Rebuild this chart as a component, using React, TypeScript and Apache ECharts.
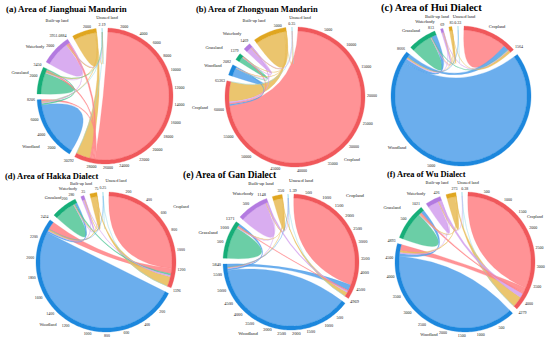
import React, { useEffect, useRef } from 'react';
import * as echarts from 'echarts';

// ---------------- data ----------------
const landTypes = ['Cropland', 'Woodland', 'Grassland', 'Waterbody', 'Built-up land', 'Unused land'];

const panelTitles = [
  '(a) Area of Jianghuai Mandarin',
  '(b) Area of Zhongyuan Mandarin',
  '(c) Area of Hui Dialect',
  '(d) Area of Hakka Dialect',
  '(e) Area of Gan Dialect',
  '(f) Area of Wu Dialect',
];

// transfer matrices: rows = from, columns = to (in landTypes order)
const jianghuaiFlows = [
  [27700, 200, 150, 340, 1900, 2],
  [300, 7500, 200, 60, 145, 1],
  [250, 150, 2850, 50, 150, 0],
  [350, 30, 40, 3400, 131.0884, 0],
  [150, 20, 15, 25, 2890, 0],
  [0.5, 0.3, 0.1, 0.5, 0.3, 0.49],
];
const zhongyuanFlows = [
  [60500, 300, 150, 350, 4060, 3],
  [250, 1700, 60, 20, 52, 0],
  [200, 50, 1050, 29, 50, 0],
  [250, 10, 10, 1100, 99, 0],
  [400, 10, 10, 30, 6050, 0],
  [0.1, 0, 0, 0.05, 0.1, 0.1],
];
const huiFlows = [
  [1300, 150, 20, 15, 79, 0],
  [100, 8380, 120, 20, 46, 0],
  [20, 150, 630, 5, 8, 0],
  [5, 8, 2, 50, 4, 0],
  [5, 3, 1, 1, 75, 0],
  [0, 0.1, 0, 0, 0, 0.23],
];
const hakkaFlows = [
  [1190, 60, 20, 15, 110, 1],
  [90, 2300, 20, 4, 20, 0],
  [12, 25, 235, 2, 6, 0],
  [5, 2, 1, 25, 2, 0],
  [6, 2, 1, 1, 65, 0],
  [0.05, 0.05, 0, 0, 0, 0.15],
];
const ganFlows = [
  [4500, 220, 30, 60, 158, 1],
  [120, 5600, 60, 20, 40, 0],
  [40, 90, 1200, 16, 25, 0],
  [60, 10, 8, 1050, 20, 0],
  [15, 5, 3, 5, 322, 0],
  [0.3, 0.2, 0, 0.3, 0, 0.59],
];
const wuFlows = [
  [3650, 150, 40, 120, 318, 1],
  [180, 4550, 80, 25, 58, 0],
  [50, 100, 840, 11, 20, 0],
  [70, 10, 6, 320, 20, 0],
  [25, 5, 3, 5, 235, 0],
  [0.1, 0, 0, 0.1, 0, 0.18],
];
const panelFlows = [jianghuaiFlows, zhongyuanFlows, huiFlows, hakkaFlows, ganFlows, wuFlows];
const tickSteps = [2000, 5000, 5000, 200, 500, 500];

// ---------------- layout & style ----------------
const ringColors = ['#F0585B', '#1C87DD', '#16AE78', '#B37AE0', '#E0A620', '#4FC3D6'];
const ribbonColors = ['#FF8487', '#56A3EA', '#56C79A', '#D4A2EE', '#E8BD5A', '#8ED8E6'];
const panelCenters = [[105, 96], [295, 97], [461, 96], [106, 262], [291, 262], [465, 262]];
const panelRadius = [68, 70, 70, 70, 68, 70];
const titlePos = [[6, 9], [196, 9], [381, 7.5], [5, 175.5], [183, 175], [387, 174.5]];
const titleSizes = [8.9, 8.5, 10.5, 8.5, 9.5, 8.4];
const nameSizes = [4.3, 4.3, 4.5, 4.2, 4.8, 4.3];
const tickSizes = [4, 4, 4, 3.9, 4.4, 4];
const nameOffsets = [
  [[95, 11], [-74, 50], [-85, -24], [-70, -50], [-48, -76], [2, -79]],
  [[57, 62], [-82, -32], [-81, -50], [-63, -64], [-41, -77], [5, -80]],
  [[36, -70], [-64, 51], [-50, -66], [-36, -74.3], [-24, -79.8], [3, -79.8]],
  [[75, -56], [-58, 62], [-53, -65], [-38, -73.5], [-25, -78.5], [10, -82]],
  [[64, -67], [-43, 71], [-83, -30], [-48, -69], [-30, -78.5], [10, -82]],
  [[70, -46], [-36, 72], [-73, -55], [-49, -69], [-28, -80], [3, -80]],
];
const labelNudges: Record<string, number[]>[] = [
  {},
  {},
  {},
  {},
  { 'total-4': [-1, 0], 'total-5': [5, 0] },
  { 'total-4': [-1, 0], 'total-5': [3, 0] },
];
const hiddenTotals = [[4], [4], [], [], [], []];
const PAD_DEG = 5;
const RING = 4;
const FONT = '"Liberation Serif", "Times New Roman", serif';

function buildLayout(flows: number[][]) {
  const n = flows.length;
  const totals = flows.map((row) => row.reduce((a, b) => a + b, 0));
  const grand = totals.reduce((a, b) => a + b, 0);
  const axisMax = (grand * 360) / (360 - n * PAD_DEG);
  const gap = (axisMax * PAD_DEG) / 360;
  const starts: number[] = [];
  let acc = gap / 2;
  for (let i = 0; i < n; i++) {
    starts.push(acc);
    acc += totals[i] + gap;
  }
  const spans: number[][][] = [];
  for (let i = 0; i < n; i++) {
    spans[i] = [];
    let p = starts[i];
    for (let k = 0; k < n; k++) {
      const j = (i + k) % n;
      spans[i][j] = [p, p + flows[i][j]];
      p += flows[i][j];
    }
  }
  return { totals, axisMax, gap, starts, spans };
}

type Item =
  | { kind: 'chord'; i: number; j: number; w: number }
  | { kind: 'ring'; i: number }
  | { kind: 'tick'; i: number; v: number }
  | { kind: 'total'; i: number }
  | { kind: 'name'; i: number };

function buildItems(flows: number[][], L: ReturnType<typeof buildLayout>, p: number): Item[] {
  const n = flows.length;
  const selfs: Item[] = [];
  const others: Item[] = [];
  for (let i = 0; i < n; i++) {
    for (let j = i; j < n; j++) {
      const w = i === j ? flows[i][i] : flows[i][j] + flows[j][i];
      if (w <= 0) continue;
      (i === j ? selfs : others).push({ kind: 'chord', i, j, w });
    }
  }
  const byW = (a: any, b: any) => b.w - a.w;
  selfs.sort(byW);
  others.sort(byW);
  const items: Item[] = [...selfs, ...others];
  const step = tickSteps[p];
  const degPerUnit = 360 / L.axisMax;
  for (let i = 0; i < n; i++) {
    items.push({ kind: 'ring', i });
    for (let v = step; v < L.totals[i]; v += step) {
      if ((L.totals[i] - v) * degPerUnit < 5) continue;
      items.push({ kind: 'tick', i, v });
    }
    if (!hiddenTotals[p].includes(i)) items.push({ kind: 'total', i });
    items.push({ kind: 'name', i });
  }
  return items;
}

const fx = (v: number) => v.toFixed(2);
const pt = (q: number[]) => `${fx(q[0])} ${fx(q[1])}`;

function arcPoints(api: any, a0: number, a1: number, rv: number, axisMax: number) {
  const deg = ((a1 - a0) / axisMax) * 360;
  const n = Math.max(1, Math.ceil(Math.abs(deg) / 1.5));
  const pts: number[][] = [];
  for (let k = 0; k <= n; k++) pts.push(api.coord([rv, a0 + ((a1 - a0) * k) / n]));
  return pts;
}

function formatTotal(v: number) {
  return String(Number(v.toFixed(4)));
}

function labelAt(
  api: any,
  angleVal: number,
  axisMax: number,
  R: number,
  text: string,
  size: number,
  nudge: number[] | undefined
) {
  const pos = api.coord([(R + 2) / R, angleVal]);
  const th = (angleVal / axisMax) * Math.PI * 2;
  const s = Math.sin(th);
  const c = Math.cos(th);
  const align = s > 0.35 ? 'left' : s < -0.35 ? 'right' : 'center';
  const verticalAlign = c > 0.25 ? 'bottom' : c < -0.25 ? 'top' : 'middle';
  const d = nudge || [0, 0];
  return {
    type: 'text',
    x: pos[0] + d[0],
    y: pos[1] + d[1],
    style: { text, fill: '#222', fontSize: size, fontFamily: FONT, align, verticalAlign },
  };
}

function renderElement(item: Item, api: any, L: ReturnType<typeof buildLayout>, flows: number[][], p: number) {
  const R = panelRadius[p];
  const rIn = (R - RING) / R;
  const center = api.coord([0, 0]);
  if (item.kind === 'chord') {
    const { i, j } = item;
    const s = L.spans[i][j];
    const sp = arcPoints(api, s[0], s[1], rIn, L.axisMax);
    let d = 'M' + pt(sp[0]) + sp.slice(1).map((q) => 'L' + pt(q)).join('');
    let color = ribbonColors[i];
    if (i === j) {
      d += `Q${pt(center)} ${pt(sp[0])}Z`;
    } else {
      const t = L.spans[j][i];
      const tp = arcPoints(api, t[0], t[1], rIn, L.axisMax);
      d += `Q${pt(center)} ${pt(tp[0])}` + tp.slice(1).map((q) => 'L' + pt(q)).join('');
      d += `Q${pt(center)} ${pt(sp[0])}Z`;
      color = flows[i][j] >= flows[j][i] ? ribbonColors[j] : ribbonColors[i];
    }
    return {
      type: 'path',
      shape: { pathData: d },
      style: { fill: color, stroke: color, lineWidth: 0.3, opacity: 0.88 },
    };
  }
  if (item.kind === 'ring') {
    const i = item.i;
    const a0 = L.starts[i];
    const a1 = a0 + L.totals[i];
    const outer = arcPoints(api, a0, a1, 1, L.axisMax);
    const inner = arcPoints(api, a1, a0, rIn, L.axisMax);
    const d =
      'M' + pt(outer[0]) + outer.slice(1).map((q) => 'L' + pt(q)).join('') +
      inner.map((q) => 'L' + pt(q)).join('') + 'Z';
    return {
      type: 'path',
      shape: { pathData: d },
      style: { fill: ringColors[item.i], stroke: ringColors[item.i], lineWidth: 0.3 },
    };
  }
  if (item.kind === 'tick') {
    return labelAt(
      api, L.starts[item.i] + item.v, L.axisMax, R, String(item.v), tickSizes[p],
      labelNudges[p][`tick-${item.i}-${item.v}`]
    );
  }
  if (item.kind === 'total') {
    return labelAt(
      api, L.starts[item.i] + L.totals[item.i], L.axisMax, R, formatTotal(L.totals[item.i]), tickSizes[p],
      labelNudges[p][`total-${item.i}`]
    );
  }
  const off = nameOffsets[p][item.i];
  return {
    type: 'text',
    x: center[0] + off[0],
    y: center[1] + off[1],
    style: {
      text: landTypes[item.i],
      fill: '#222',
      fontSize: nameSizes[p],
      fontFamily: FONT,
      align: 'center',
      verticalAlign: 'middle',
    },
  };
}

function buildOption() {
  const polar: any[] = [];
  const angleAxis: any[] = [];
  const radiusAxis: any[] = [];
  const series: any[] = [];
  const graphic: any[] = [];
  panelFlows.forEach((flows, p) => {
    const L = buildLayout(flows);
    const [cx, cy] = panelCenters[p];
    const R = panelRadius[p];
    polar.push({ center: [cx, cy], radius: [0, R] });
    angleAxis.push({
      polarIndex: p,
      type: 'value',
      min: 0,
      max: L.axisMax,
      startAngle: 90,
      clockwise: true,
      axisLine: { show: false },
      axisTick: { show: false },
      axisLabel: { show: false },
      splitLine: { show: false },
    });
    radiusAxis.push({
      polarIndex: p,
      type: 'value',
      min: 0,
      max: 1,
      axisLine: { show: false },
      axisTick: { show: false },
      axisLabel: { show: false },
      splitLine: { show: false },
    });
    const items = buildItems(flows, L, p);
    series.push({
      type: 'custom',
      coordinateSystem: 'polar',
      polarIndex: p,
      silent: true,
      data: items.map((_, k) => [0, 0, k]),
      renderItem: (_params: any, api: any) => renderElement(items[api.value(2)], api, L, flows, p),
    });
    graphic.push({
      type: 'text',
      x: titlePos[p][0],
      y: titlePos[p][1],
      style: {
        text: panelTitles[p],
        fill: '#000',
        font: `bold ${titleSizes[p]}px ${FONT}`,
        verticalAlign: 'middle',
      },
    });
  });
  return {
    animation: false,
    backgroundColor: '#ffffff',
    polar,
    angleAxis,
    radiusAxis,
    series,
    graphic,
  };
}

export default function App() {
  const ref = useRef<HTMLDivElement>(null);
  useEffect(() => {
    document.body.style.margin = '0';
    const chart = echarts.init(ref.current as HTMLDivElement, null, { renderer: 'svg' });
    chart.setOption(buildOption() as any);
    return () => chart.dispose();
  }, []);
  return <div ref={ref} style={{ width: 550, height: 345 }} />;
}
